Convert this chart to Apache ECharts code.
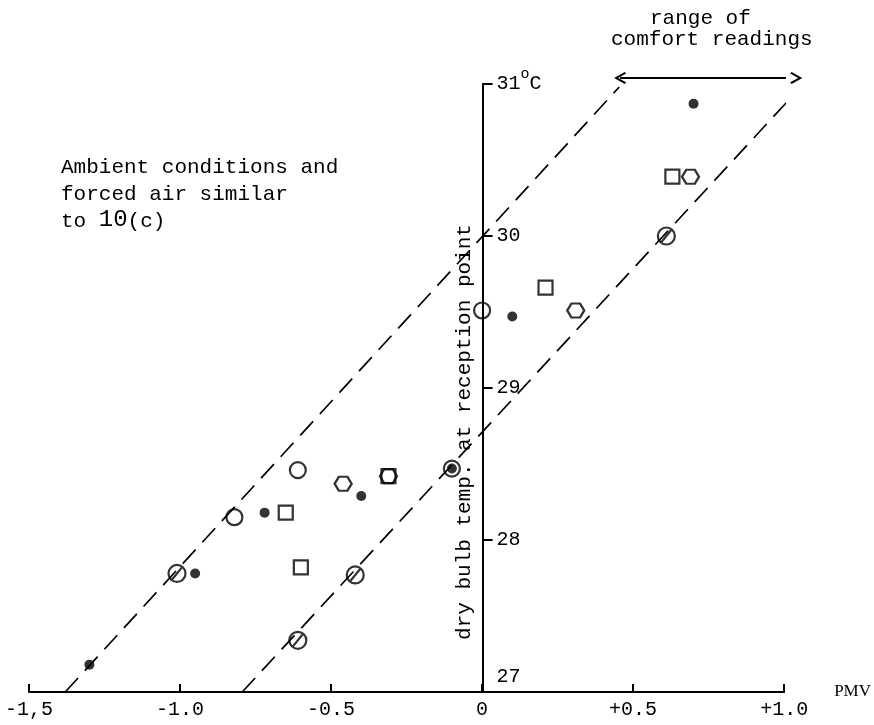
<!DOCTYPE html>
<html>
<head>
<meta charset="utf-8">
<script src="https://cdn.jsdelivr.net/npm/echarts@6/dist/echarts.min.js"></script>
<style>
  html, body { margin: 0; padding: 0; background: #fff; }
  #chart { width: 874px; height: 725px; }
</style>
</head>
<body>
<div id="chart"></div>
<script>
// Axis ticks and their printed labels
const pmvTicks = [-1.5, -1.0, -0.5, 0, 0.5, 1.0];
const pmvTickLabels = ['-1,5', '-1.0', '-0.5', '0', '+0.5', '+1.0'];
const tempTicks = [27, 28, 29, 30, 31];

// Readings: [PMV, dry bulb temperature °C], one array per marker type
const dots = [[-1.30, 27.18], [-0.95, 27.78], [-0.72, 28.18], [-0.40, 28.29], [-0.10, 28.47], [0.10, 29.47], [0.70, 30.87]];
const circles = [[-0.82, 28.15], [-0.61, 28.46], [-0.10, 28.47], [0.00, 29.51]];
const slashedCircles = [[-1.01, 27.78], [-0.61, 27.34], [-0.42, 27.77], [0.61, 30.00]];
const hexagons = [[-0.46, 28.37], [-0.31, 28.42], [0.31, 29.51], [0.69, 30.39]];
const squares = [[-0.65, 28.18], [-0.60, 27.82], [-0.31, 28.42], [0.21, 29.66], [0.63, 30.39]];

// Dashed boundaries of the comfort band
const leftBoundary = [[-1.38, 27.0], [0.454, 30.98]];
const rightBoundary = [[-0.794, 27.0], [1.055, 30.98]];

// Double arrow marking the range of comfort readings
const comfortRange = [0.457, 1.04];
const comfortArrowTemp = 31.04;

const MONO = '"Liberation Mono", "DejaVu Sans Mono", monospace';
const INK = '#000';

const HEXAGON = 'path://M-8,0 L-4,-6.93 L4,-6.93 L8,0 L4,6.93 L-4,6.93 Z';
const SLASHED = 'path://M0,-8 A8,8 0 1,1 0,8 A8,8 0 1,1 0,-8 Z M-5.4,6.6 L5.4,-6.6';
const CHEVRON = 'path://M6,0 L12,9 L10.4,10.2 L6,3.4 L1.6,10.2 L0,9 Z';

const hollow = { color: 'rgba(0,0,0,0)', borderColor: INK, borderWidth: 2.2 };

// Layout of the plotting area; the temperature axis stands at PMV = 0
const GRID = { left: 29, right: 89, top: 84, bottom: 33 };
const X_MIN = -1.5, X_MAX = 1.0;
const plotWidth = 874 - GRID.left - GRID.right;
const zeroOffset = plotWidth * (0 - X_MIN) / (X_MAX - X_MIN);

function markerSeries(name, data, symbol, size, style) {
  return {
    name, type: 'scatter', data, symbol, symbolSize: size,
    itemStyle: style, silent: true, z: 5
  };
}

function boundarySeries(name, data) {
  return {
    name, type: 'line', data, symbol: 'none', silent: true, z: 3,
    lineStyle: { color: INK, width: 1.7, type: [19, 10] }
  };
}

const chart = echarts.init(document.getElementById('chart'), null, { renderer: 'canvas' });

chart.setOption({
  animation: false,
  backgroundColor: '#fff',
  grid: Object.assign({ containLabel: false }, GRID),
  xAxis: {
    type: 'value',
    min: X_MIN, max: X_MAX, interval: 0.5,
    name: 'PMV',
    nameLocation: 'end',
    nameGap: 50,
    nameTextStyle: { fontFamily: '"Liberation Serif", serif', fontSize: 17, color: INK },
    axisLine: { onZero: false, lineStyle: { color: INK, width: 2 } },
    axisTick: { inside: true, length: 8, lineStyle: { color: INK, width: 2 } },
    axisLabel: {
      margin: 8, color: INK, fontFamily: MONO, fontSize: 20,
      formatter: v => {
        const i = pmvTicks.findIndex(t => Math.abs(t - v) < 1e-9);
        return i >= 0 ? pmvTickLabels[i] : '';
      }
    },
    splitLine: { show: false }
  },
  yAxis: {
    type: 'value',
    position: 'left',
    offset: -zeroOffset,
    min: 27, max: 31, interval: 1,
    name: 'dry bulb temp. at reception point',
    nameLocation: 'middle',
    nameGap: 0,
    nameTextStyle: { fontFamily: MONO, fontSize: 21, color: INK, padding: [0, 88, 0, 0] },
    axisLine: { onZero: false, lineStyle: { color: INK, width: 2 } },
    axisTick: { inside: true, length: 10, lineStyle: { color: INK, width: 2 } },
    axisLabel: {
      inside: true, margin: 14, color: INK, fontFamily: MONO, fontSize: 20,
      formatter: v => {
        if (!tempTicks.includes(v)) return '';
        if (v === 31) return '{n|31}{s|o}{n|C}';
        if (v === 27) return '{up|27}\n{up| }';
        return String(v);
      },
      rich: {
        n: { fontFamily: MONO, fontSize: 20, color: INK, lineHeight: 34, verticalAlign: 'middle' },
        s: { fontFamily: MONO, fontSize: 15, color: INK, verticalAlign: 'top' },
        up: { fontFamily: MONO, fontSize: 20, color: INK, lineHeight: 30 }
      }
    },
    splitLine: { show: false }
  },
  graphic: [
    { type: 'text', left: 650, top: 8, silent: true,
      style: { text: 'range of', font: '21px ' + MONO, fill: INK } },
    { type: 'text', left: 611, top: 29, silent: true,
      style: { text: 'comfort readings', font: '21px ' + MONO, fill: INK } },
    { type: 'text', left: 61, top: 157, silent: true,
      style: { text: 'Ambient conditions and', font: '21px ' + MONO, fill: INK } },
    { type: 'text', left: 61, top: 184, silent: true,
      style: { text: 'forced air similar', font: '21px ' + MONO, fill: INK } },
    { type: 'text', left: 61, top: 208, silent: true,
      style: {
        text: '{a|to }{b|10}{a|(c)}',
        rich: {
          a: { fontFamily: MONO, fontSize: 21, fill: INK, verticalAlign: 'bottom' },
          b: { fontFamily: MONO, fontSize: 24, fill: INK, verticalAlign: 'bottom' }
        }
      } }
  ],
  series: [
    boundarySeries('leftBoundary', leftBoundary),
    boundarySeries('rightBoundary', rightBoundary),
    {
      name: 'comfortRange', type: 'line', clip: false, silent: true, z: 4,
      showAllSymbol: true,
      symbol: CHEVRON, symbolSize: 12,
      itemStyle: { color: INK },
      lineStyle: { color: INK, width: 2, type: 'solid' },
      data: [
        { value: [comfortRange[0], comfortArrowTemp], symbolRotate: 90 },
        { value: [comfortRange[1], comfortArrowTemp], symbolRotate: -90 }
      ]
    },
    markerSeries('circles', circles, 'circle', 16, hollow),
    markerSeries('slashedCircles', slashedCircles, SLASHED, 17, hollow),
    markerSeries('hexagons', hexagons, HEXAGON, [17, 14], hollow),
    markerSeries('squares', squares, 'rect', 14, hollow),
    markerSeries('dots', dots, 'circle', 10, { color: INK })
  ]
});
</script>
</body>
</html>
